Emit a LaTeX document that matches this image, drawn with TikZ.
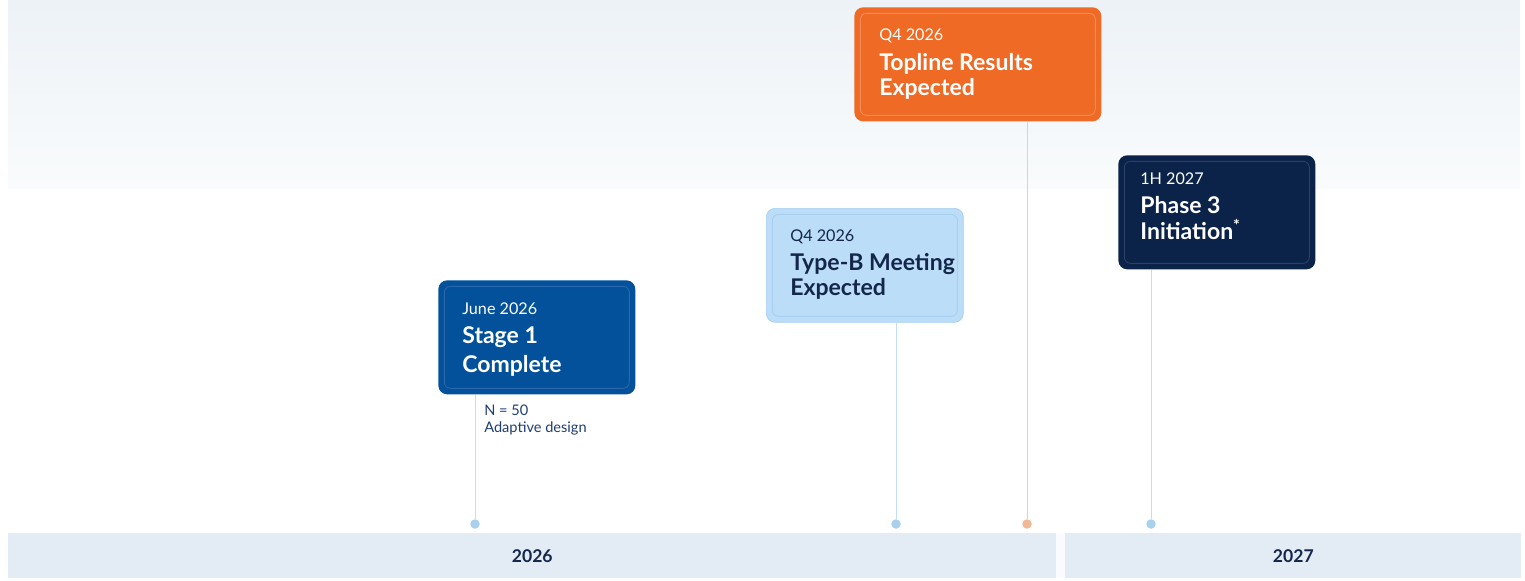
\documentclass[tikz,border=0pt]{standalone}
\usepackage{fontspec}
\setmainfont{Lato}
\usepackage{tikz}
\usetikzlibrary{positioning, calc}
\usepackage{xcolor}

\definecolor{stageblue}{HTML}{03519B}
\definecolor{stageedge}{HTML}{2A68A9}
\definecolor{skyfill}{HTML}{BBDDF8}
\definecolor{skyedge}{HTML}{A6CFF2}
\definecolor{toporange}{HTML}{EE6A25}
\definecolor{orangeedge}{HTML}{F48C57}
\definecolor{navyfill}{HTML}{0B2249}
\definecolor{navyedge}{HTML}{2C4066}
\definecolor{inknavy}{HTML}{14264A}
\definecolor{notetext}{HTML}{1E3D70}
\definecolor{stemblue}{HTML}{C2DEF3}
\definecolor{stemorange}{HTML}{F7C9AD}
\definecolor{dotblue}{HTML}{A9D1EE}
\definecolor{dotorange}{HTML}{F4B795}
\definecolor{barfill}{HTML}{E3ECF4}
\definecolor{hazetop}{HTML}{EDF2F7}
\definecolor{hazelow}{HTML}{F9FBFC}

\begin{document}
\begin{tikzpicture}[
  x=0.02cm, y=-0.02cm,
  card/.style={rounded corners=5pt, minimum width=3.94cm, minimum height=2.28cm,
    anchor=north west, inner sep=0pt, fill=#1},
  rim/.style={path picture={\draw[#1, line width=0.5pt, rounded corners=3.5pt]
    ([shift={(6,6)}]path picture bounding box.north west) rectangle
    ([shift={(-6,-6)}]path picture bounding box.south east);}},
  when/.style={font=\fontsize{9.2}{11}\selectfont, inner sep=0pt, anchor=base west},
  ttl/.style={font=\fontsize{13.1}{15}\bfseries, inner sep=0pt, anchor=base west},
  note/.style={font=\fontsize{8.3}{10}\selectfont, text=notetext, inner sep=0pt, anchor=base west},
  stem/.style={line width=0.55pt},
  dot/.style={circle, fill=#1, inner sep=0pt, minimum size=0.19cm},
  bar/.style={fill=barfill, draw=none},
  yr/.style={font=\fontsize{10}{12}\bfseries, text=inknavy},
]
  \useasboundingbox (0,0) rectangle (1525,581);
  % light haze across the top
  \shade[top color=hazetop, bottom color=hazelow] (8,0) rectangle (1520,188);

  % year bars
  \fill[blue!2!white] (1056,533) rectangle (1065,578);
  \node[bar, minimum width=20.96cm, minimum height=0.9cm, anchor=north west] (y26) at (8,533) {};
  \node[bar, minimum width=9.12cm, minimum height=0.9cm, anchor=north west] (y27) at (1065,533) {};
  \node[yr] at (y26) {2026};
  \node[yr] at (y27) {2027};

  % markers on the axis
  \node[dot=dotblue]   (d1) at (475,524) {};
  \node[dot=dotblue]   (d2) at (896,524) {};
  \node[dot=dotorange] (d3) at (1027,524) {};
  \node[dot=dotblue]   (d4) at (1151,524) {};

  % milestone cards
  \node[card=stageblue, rim=stageedge] (stage) at (438,280) {};
  \node[card=skyfill, draw=skyedge, rim=skyedge] (mtg) at (766,208) {};
  \node[card=toporange, minimum width=4.94cm, rim=orangeedge] (top) at (854,7) {};
  \node[card=navyfill, rim=navyedge] (ph3) at (1118,155) {};

  % stems down to the axis
  \draw[stem, stemblue]   (d1) -- (d1 |- stage.south);
  \draw[stem, stemblue]   (d2) -- (d2 |- mtg.south);
  \draw[stem, stemorange] (d3) -- (d3 |- top.south);
  \draw[stem, stemblue]   (d4) -- (d4 |- ph3.south);

  % card texts
  \node[when, text=white] at ([shift={(24,34)}]stage.north west) {June 2026};
  \node[ttl, text=white]  at ([shift={(24,63)}]stage.north west) {Stage 1};
  \node[ttl, text=white]  at ([shift={(24,92)}]stage.north west) {Complete};

  \node[when, text=inknavy] at ([shift={(24,33)}]mtg.north west) {Q4 2026};
  \node[ttl, text=inknavy]  at ([shift={(24,62)}]mtg.north west) {Type-B Meeting};
  \node[ttl, text=inknavy]  at ([shift={(24,87)}]mtg.north west) {Expected};

  \node[when, text=white] at ([shift={(25,34)}]top.north west) {Q4 2026};
  \node[ttl, text=white]  at ([shift={(25,64)}]top.north west) {Topline Results};
  \node[ttl, text=white]  at ([shift={(25,89)}]top.north west) {Expected};

  \node[when, text=white] at ([shift={(22,29)}]ph3.north west) {1H 2027};
  \node[ttl, text=white]  at ([shift={(22,59)}]ph3.north west) {Phase 3};
  \node[ttl, text=white]  at ([shift={(22,84)}]ph3.north west) {Initiation\textsuperscript{*}};

  % study note under the first card
  \node[note] (n1) at (484,415) {N = 50};
  \node[note] (n2) at (484,432) {Adaptive design};
\end{tikzpicture}
\end{document}
